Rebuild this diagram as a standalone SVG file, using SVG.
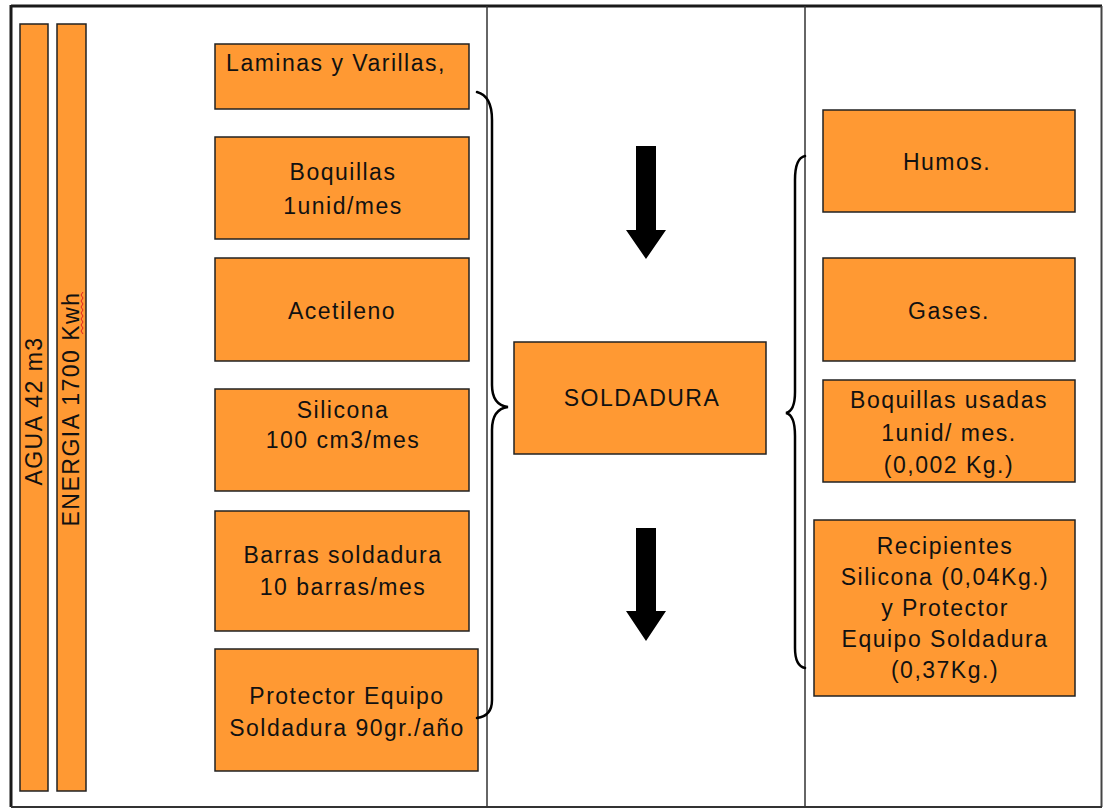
<svg xmlns="http://www.w3.org/2000/svg" width="1103" height="809" viewBox="0 0 1103 809">
  <style>
    .box { fill: #FF9933; stroke: #222222; stroke-width: 1.5; }
    .lbl { font-family: "Liberation Sans", Arial, sans-serif; font-size: 23px; letter-spacing: 1.5px; fill: #111111; text-anchor: middle; }
    .brace { fill: none; stroke: #000000; stroke-width: 2.5; stroke-linecap: round; }
    .divider { stroke: #333333; stroke-width: 1.5; }
    .arrow { fill: #000000; }
  </style>
  <rect x="0" y="0" width="1103" height="809" fill="#FFFFFF"/>

  <!-- outer frame and column dividers -->
  <g id="frame">
    <line x1="11" y1="6" x2="1102" y2="6" stroke="#1a1a1a" stroke-width="3"/>
    <line x1="11" y1="5" x2="11" y2="807" stroke="#1a1a1a" stroke-width="3"/>
    <line x1="1101.5" y1="6" x2="1101.5" y2="807" stroke="#444444" stroke-width="2"/>
    <line x1="11" y1="807" x2="1102" y2="807" stroke="#333333" stroke-width="2"/>
    <line class="divider" x1="487" y1="6" x2="487" y2="807"/>
    <line class="divider" x1="805" y1="6" x2="805" y2="807"/>
  </g>

  <!-- resource bars -->
  <g id="agua">
    <rect class="box" x="20" y="24" width="28" height="767"/>
    <text class="lbl" transform="translate(42,411) rotate(-90)">AGUA 42 m3</text>
  </g>
  <g id="energia">
    <rect class="box" x="57" y="24" width="29" height="767"/>
    <text class="lbl" transform="translate(79,409) rotate(-90)">ENERGIA 1700 Kwh</text>
    <path d="M83,292 l-2,3 l2,3 l-2,3 l2,3 l-2,3 l2,3 l-2,3 l2,3 l-2,3 l2,3 l-2,3 l2,3 l-2,3 l2,3" fill="none" stroke="#e02020" stroke-width="1"/>
  </g>

  <!-- inputs -->
  <g id="laminas">
    <rect class="box" x="215" y="44" width="254" height="65"/>
    <text class="lbl" x="336" y="71">Laminas y Varillas,</text>
  </g>
  <g id="boquillas">
    <rect class="box" x="215" y="137" width="254" height="102"/>
    <text class="lbl" x="343" y="180">Boquillas</text>
    <text class="lbl" x="343" y="214">1unid/mes</text>
  </g>
  <g id="acetileno">
    <rect class="box" x="215" y="258" width="254" height="103"/>
    <text class="lbl" x="342" y="319">Acetileno</text>
  </g>
  <g id="silicona">
    <rect class="box" x="215" y="389" width="254" height="102"/>
    <text class="lbl" x="343" y="418">Silicona</text>
    <text class="lbl" x="343" y="448">100 cm3/mes</text>
  </g>
  <g id="barras">
    <rect class="box" x="215" y="511" width="254" height="120"/>
    <text class="lbl" x="343" y="563">Barras soldadura</text>
    <text class="lbl" x="343" y="595">10 barras/mes</text>
  </g>
  <g id="protector">
    <rect class="box" x="215" y="649" width="263" height="122"/>
    <text class="lbl" x="347" y="704">Protector Equipo</text>
    <text class="lbl" x="347" y="736">Soldadura 90gr./año</text>
  </g>

  <!-- process -->
  <g id="soldadura">
    <rect class="box" x="514" y="342" width="252" height="112"/>
    <text class="lbl" x="642" y="406">SOLDADURA</text>
  </g>

  <!-- outputs -->
  <g id="humos">
    <rect class="box" x="823" y="110" width="252" height="102"/>
    <text class="lbl" x="947" y="170">Humos.</text>
  </g>
  <g id="gases">
    <rect class="box" x="823" y="258" width="252" height="103"/>
    <text class="lbl" x="949" y="319">Gases.</text>
  </g>
  <g id="boquillas-usadas">
    <rect class="box" x="823" y="380" width="252" height="102"/>
    <text class="lbl" x="949" y="408">Boquillas usadas</text>
    <text class="lbl" x="949" y="441">1unid/ mes.</text>
    <text class="lbl" x="949" y="473">(0,002 Kg.)</text>
  </g>
  <g id="recipientes">
    <rect class="box" x="814" y="520" width="261" height="176"/>
    <text class="lbl" x="945" y="554">Recipientes</text>
    <text class="lbl" x="945" y="585">Silicona (0,04Kg.)</text>
    <text class="lbl" x="945" y="616">y Protector</text>
    <text class="lbl" x="945" y="647">Equipo Soldadura</text>
    <text class="lbl" x="945" y="678">(0,37Kg.)</text>
  </g>

  <!-- braces and flow arrows -->
  <g id="connectors">
    <path class="brace" d="M477,92 Q492,96 492,120 L492,385 Q492,405 508,407 Q492,409 492,430 L492,700 Q492,716 477,718"/>
    <path class="brace" d="M805,156 Q795,158 795,180 L795,392 Q795,411 786,413 Q795,415 795,436 L795,648 Q795,666 805,668"/>
    <path class="arrow" d="M636,146 L656,146 L656,230 L666,230 L646,259 L626,230 L636,230 Z"/>
    <path class="arrow" d="M636,528 L656,528 L656,611 L666,611 L646,641 L626,611 L636,611 Z"/>
  </g>
</svg>
